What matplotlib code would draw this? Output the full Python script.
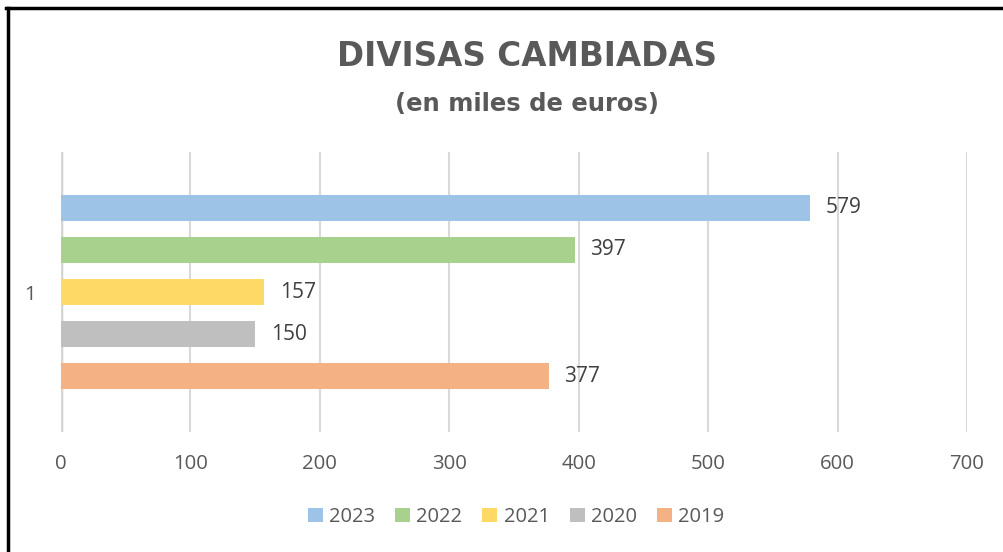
import matplotlib
matplotlib.use("Agg")
import matplotlib.pyplot as plt
from matplotlib.lines import Line2D
from matplotlib.patches import Patch

categories = ["1"]
years = ["2023", "2022", "2021", "2020", "2019"]
values = [579, 397, 157, 150, 377]
colors = ["#9DC3E6", "#A9D18E", "#FFD966", "#BFBFBF", "#F4B183"]
xticks = [0, 100, 200, 300, 400, 500, 600, 700]

plt.rcParams['font.family'] = ['Open Sans', 'DejaVu Sans']
TXT = "#595959"

fig = plt.figure(figsize=(10.04, 5.52), dpi=100)
ax = fig.add_axes([61/1004, 1-432/552, (967-61)/1004, (432-152)/552])

n = len(years)
pos = list(range(n))
for i, (yr, v, c) in enumerate(zip(years, values, colors)):
    ax.barh(pos[i], v, height=0.62, color=c, zorder=3)
    ax.text(v + 12, pos[i], str(v), va='center', ha='left', fontsize=15, color="#404040")

ax.set_ylim(n - 1 + 1.333, -1.333)
ax.set_xlim(0, 700)
ax.set_xticks(xticks)
ax.set_xticklabels([str(t) for t in xticks], fontsize=14.7, color=TXT)
ax.set_yticks([(n - 1) / 2])
ax.set_yticklabels(categories, fontsize=14.7, color=TXT)
ax.tick_params(axis='both', length=0)
ax.tick_params(axis='x', pad=16)
ax.tick_params(axis='y', pad=18)
for s in ax.spines.values():
    s.set_visible(False)
ax.grid(axis='x', color="#D9D9D9", linewidth=1.5, zorder=0)
ax.axvline(0, color="#D0D0D0", linewidth=2.5, zorder=1)

fig.text(527.5/1004, 1-57/552, "DIVISAS CAMBIADAS", ha='center', va='center',
         fontsize=23.5, fontweight='bold', color=TXT, family=['DejaVu Sans'])
fig.text(527.5/1004, 1-104/552, "(en miles de euros)", ha='center', va='center',
         fontsize=17.5, fontweight='bold', color=TXT, family=['DejaVu Sans'])

handles = [Patch(facecolor=c, edgecolor='none') for c in colors]
fig.legend(handles, years, loc='center', bbox_to_anchor=(516/1004, 1-517/552),
           ncol=5, frameon=False, fontsize=14.5, labelcolor=TXT,
           handlelength=0.75, handleheight=0.75, handletextpad=0.3, columnspacing=1.0)

fig.add_artist(Line2D([6/1004, 1], [1-8/552, 1-8/552], color='black', linewidth=2.5,
                      transform=fig.transFigure))
fig.add_artist(Line2D([8/1004, 8/1004], [0, 1-8/552], color='black', linewidth=2.5,
                      transform=fig.transFigure))

fig.savefig("out.png", dpi=100)
